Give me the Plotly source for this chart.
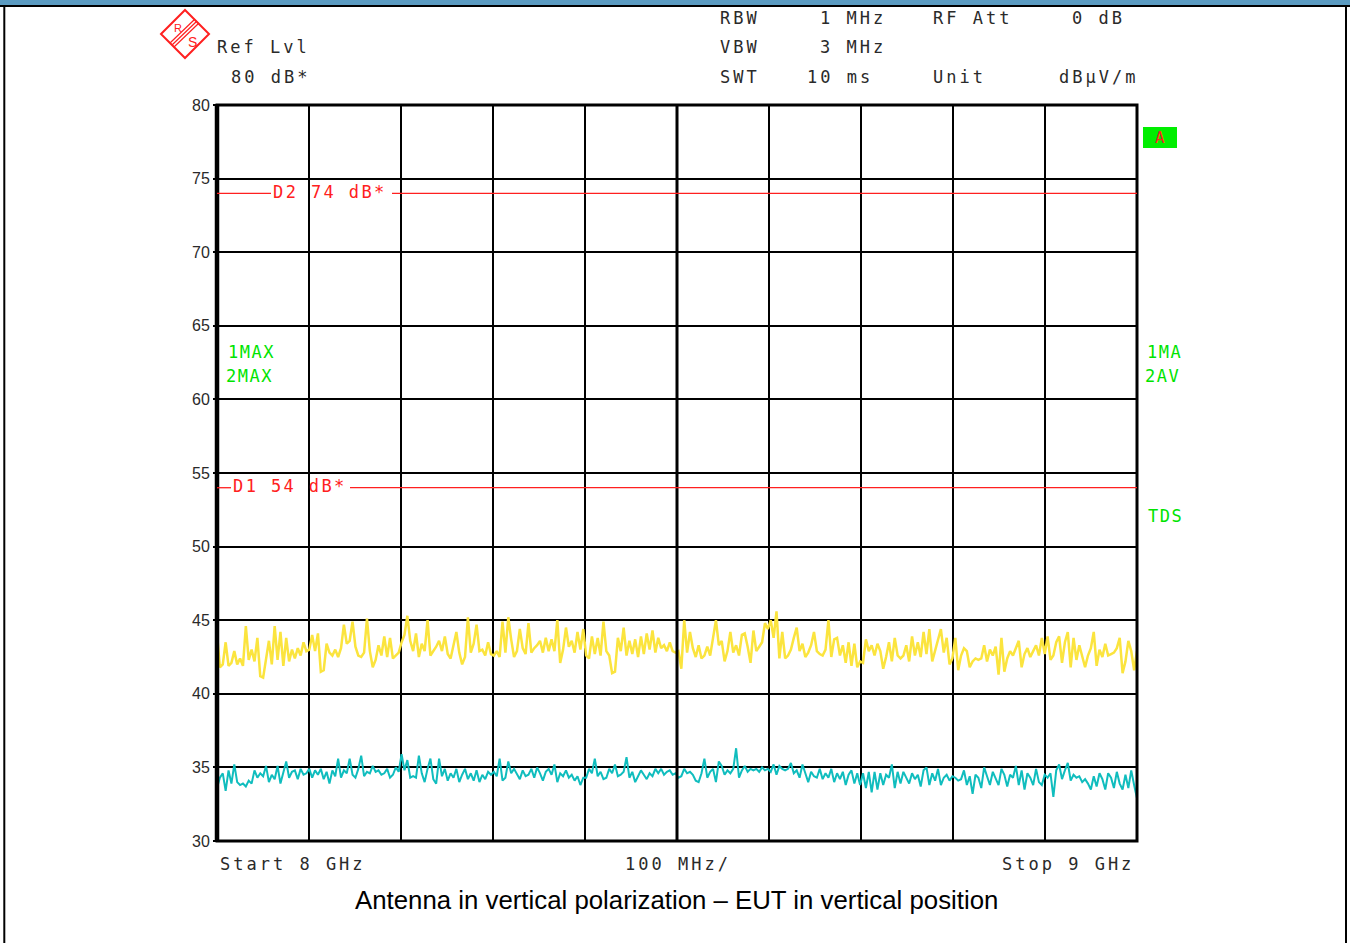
import plotly.graph_objects as go
import numpy as np

# ---- sweep settings -------------------------------------------------------
start_mhz = 8000
stop_mhz = 9000
y_min, y_max = 30, 80
display_lines = {"D2": 74, "D1": 54}

# ---- trace 1 (max hold, yellow), one row per 100 MHz division ------------
trace1_db = [
    44.1, 41.8, 42.0, 43.5, 41.9, 42.1, 42.9, 42.0, 42.4, 41.9, 44.6, 42.3, 43.0, 42.2, 43.8, 41.2,
    41.1, 42.5, 43.6, 42.0, 44.6, 42.3, 44.2, 41.9, 43.8, 42.2, 43.0, 42.4, 43.1, 42.6, 43.5, 42.9,
    43.0, 44.0, 42.9, 44.1, 41.5, 41.6, 43.4, 42.8, 42.6, 43.0, 42.5, 43.1, 44.7, 43.4, 43.6, 44.9,
    43.2, 42.6, 42.5, 42.8, 45.1, 42.9, 41.8, 42.3, 43.3, 42.6, 43.9, 42.5, 43.8, 42.4, 42.6, 42.8,
    43.5, 44.0, 45.3, 43.6, 42.9, 44.1, 42.5, 43.4, 42.9, 45.0, 42.6, 42.9, 43.2, 43.6, 42.9, 43.9,
    42.7, 42.4, 43.2, 44.2, 42.8, 42.0, 42.5, 45.2, 42.8, 43.4, 44.7, 42.9, 43.0, 42.6, 43.5, 42.7,
    42.6, 42.9, 42.5, 44.9, 42.8, 45.2, 43.7, 42.5, 42.9, 44.4, 43.1, 42.7, 44.8, 42.8, 43.1, 43.3,
    43.6, 42.8, 43.8, 42.9, 43.7, 42.9, 45.0, 42.1, 43.0, 44.5, 43.2, 43.6, 42.8, 44.2, 43.0, 44.4,
    42.6, 42.4, 43.9, 42.7, 43.8, 42.6, 44.9, 42.9, 42.6, 41.4, 41.5, 43.8, 42.9, 44.5, 42.6, 43.6,
    42.7, 43.7, 42.5, 43.9, 42.7, 44.1, 43.0, 44.3, 42.8, 43.8, 43.1, 43.3, 42.9, 43.5, 42.9, 42.8,
    42.9, 41.7, 45.0, 42.8, 44.2, 43.1, 42.5, 43.3, 42.4, 42.6, 43.2, 42.6, 43.8, 45.0, 43.3, 43.6,
    42.2, 42.9, 44.2, 42.8, 43.3, 42.6, 44.0, 44.1, 43.2, 42.1, 44.3, 42.9, 43.2, 43.5, 44.8, 44.4,
    45.0, 43.8, 45.6, 42.4, 44.2, 42.4, 42.6, 43.0, 43.8, 44.5, 42.9, 43.4, 42.5, 42.8, 43.3, 44.2,
    42.9, 42.7, 42.6, 43.0, 45.0, 42.5, 43.7, 43.8, 42.6, 43.3, 42.1, 43.5, 41.9, 43.4, 41.8, 42.2,
    42.1, 43.7, 42.9, 43.3, 42.6, 43.4, 42.9, 41.7, 42.5, 43.5, 42.2, 43.8, 42.6, 42.4, 42.6, 43.3,
    42.2, 43.9, 42.6, 43.5, 42.5, 44.2, 42.7, 44.4, 42.2, 43.0, 43.6, 44.4, 42.8, 43.8, 42.0, 42.4,
    43.8, 41.6, 42.6, 43.1, 42.9, 41.8, 42.2, 42.4, 42.3, 42.4, 43.3, 42.2, 43.0, 42.6, 43.2, 41.3,
    43.8, 41.5, 42.4, 42.9, 42.6, 43.1, 43.6, 41.8, 42.7, 43.1, 42.5, 42.9, 43.3, 42.6, 43.8, 42.7,
    43.9, 42.3, 42.6, 43.5, 43.9, 42.1, 43.5, 44.2, 41.8, 43.8, 42.3, 43.3, 42.6, 41.8, 42.6, 43.1,
    44.2, 41.9, 43.0, 42.5, 43.4, 42.6, 42.7, 42.8, 43.1, 43.8, 41.4, 42.2, 43.6, 42.9, 41.6, 42.9,
]

# ---- trace 2 (cyan) -------------------------------------------------------
trace2_db = [
    33.6, 34.3, 34.6, 33.4, 34.8, 33.9, 35.2, 34.0, 33.8, 33.9, 33.7, 34.1, 33.9, 34.8, 34.3, 34.6,
    34.4, 35.1, 34.0, 34.5, 34.2, 35.1, 33.9, 34.6, 35.4, 34.3, 34.7, 34.8, 34.2, 34.9, 34.5, 34.6,
    34.9, 34.3, 34.8, 34.5, 34.9, 34.2, 34.7, 33.9, 34.8, 34.4, 35.6, 34.3, 34.8, 34.6, 35.6, 34.5,
    34.3, 34.9, 35.8, 34.4, 34.7, 34.6, 35.1, 34.7, 34.8, 34.5, 34.6, 34.9, 34.3, 34.5, 35.0, 34.7,
    35.9, 34.8, 35.5, 34.3, 34.4, 34.3, 35.8, 34.6, 34.0, 34.9, 35.6, 34.2, 33.9, 35.6, 34.4, 34.9,
    34.1, 34.6, 34.3, 34.9, 34.0, 34.5, 34.9, 34.2, 34.6, 34.1, 34.8, 34.0, 34.5, 34.2, 34.7, 34.5,
    34.7, 34.4, 35.6, 34.1, 34.3, 35.4, 34.6, 34.9, 34.5, 34.2, 34.8, 34.4, 34.5, 34.9, 34.3, 35.0,
    34.6, 34.1, 34.7, 34.9, 34.5, 35.2, 34.0, 34.6, 34.4, 34.8, 34.3, 34.5, 34.1, 34.4, 33.8, 34.3,
    34.3, 34.9, 34.6, 35.6, 34.4, 34.7, 34.2, 34.3, 34.9, 34.6, 35.2, 34.4, 34.5, 34.7, 35.7, 34.3,
    34.7, 34.0, 34.4, 34.8, 34.5, 34.2, 34.6, 34.4, 34.9, 34.6, 34.9, 34.5, 34.7, 34.8, 34.5, 34.6,
    34.3, 34.4, 34.9, 34.6, 34.7, 34.5, 34.1, 34.0, 34.6, 35.6, 34.3, 34.7, 34.9, 34.0, 35.4, 35.1,
    34.5, 34.8, 34.6, 34.9, 36.3, 34.3, 34.8, 35.1, 34.7, 34.9, 34.8, 34.9, 34.7, 35.0, 34.8, 34.9,
    34.7, 35.2, 34.5, 35.1, 34.9, 34.8, 34.9, 35.3, 34.6, 34.8, 34.3, 35.2, 34.6, 34.0, 34.7, 34.4,
    34.3, 34.9, 34.2, 34.6, 34.3, 34.9, 34.0, 34.6, 34.2, 34.7, 33.8, 34.5, 34.8, 33.9, 34.6, 33.8,
    34.6, 33.6, 34.7, 33.3, 34.7, 33.5, 34.6, 33.8, 34.5, 34.3, 35.2, 33.6, 34.7, 33.9, 34.7, 34.3,
    33.9, 34.6, 34.2, 34.5, 33.7, 34.8, 35.0, 33.8, 34.6, 34.1, 34.9, 33.8, 34.3, 34.5, 34.1, 34.4,
    34.3, 34.1, 34.2, 34.8, 33.8, 34.4, 33.2, 34.5, 34.3, 33.6, 35.0, 34.4, 33.8, 34.7, 34.2, 33.8,
    34.9, 34.5, 33.7, 34.5, 34.3, 35.1, 33.8, 34.8, 33.5, 34.6, 34.3, 33.8, 34.9, 34.0, 33.8, 34.5,
    34.3, 34.6, 33.0, 34.8, 35.2, 34.2, 34.8, 35.3, 34.1, 34.5, 34.3, 34.4, 34.0, 34.2, 33.9, 33.5,
    34.4, 33.7, 34.6, 34.2, 33.5, 34.6, 34.3, 33.6, 34.7, 33.9, 33.5, 34.5, 33.6, 34.8, 33.8, 32.9,
]

freq1 = np.linspace(start_mhz, stop_mhz, len(trace1_db))
freq2 = np.linspace(start_mhz, stop_mhz, len(trace2_db))

# ---- page geometry (pixels) ----------------------------------------------
W, H = 1350, 943
PL, PR, PT, PB = 217, 1137, 105, 841


def px(x):
    return (x - PL) / (PR - PL)


def py(y):
    return (PB - y) / (PB - PT)


MONO = "DejaVu Sans Mono"
SANS = "Liberation Sans, Arial, sans-serif"
RED = "#FF2020"
GREEN = "#00E400"
TXT = "#2a2a2a"


def spaced(s, ls=3.0):
    return f'<span style="letter-spacing:{ls}px">{s}</span>'


fig = go.Figure()
fig.add_trace(go.Scatter(x=freq1, y=trace1_db, mode="lines",
                         line=dict(color="#FBE43E", width=2.5), hoverinfo="skip"))
fig.add_trace(go.Scatter(x=freq2, y=trace2_db, mode="lines",
                         line=dict(color="#10BDBE", width=2.0), hoverinfo="skip"))

shapes = []
annotations = []

# plot frame and centre line
shapes.append(dict(type="rect", xref="paper", yref="paper", x0=0, x1=1, y0=0, y1=1,
                   line=dict(color="black", width=3)))
shapes.append(dict(type="line", xref="paper", yref="paper", x0=0, x1=0, y0=0, y1=1,
                   line=dict(color="black", width=4.5)))
shapes.append(dict(type="line", xref="x", yref="paper", x0=8500, x1=8500, y0=0, y1=1,
                   line=dict(color="black", width=3)))

# display lines with their labels
line_layout = {"D2": (271, 392), "D1": (231, 350)}
for name, val in display_lines.items():
    gap0, gap1 = line_layout[name]
    shapes.append(dict(type="line", xref="paper", yref="y", x0=0, x1=px(gap0), y0=val, y1=val,
                       line=dict(color=RED, width=1.3)))
    shapes.append(dict(type="line", xref="paper", yref="y", x0=px(gap1), x1=1, y0=val, y1=val,
                       line=dict(color=RED, width=1.3)))
    annotations.append(dict(xref="paper", yref="y", x=px(gap0), y=val + 0.12,
                            text=spaced(f"{name} {val} dB*", 2.4), showarrow=False,
                            xanchor="left", yanchor="middle",
                            font=dict(family=MONO, size=17, color=RED)))

# page border
shapes.append(dict(type="rect", xref="paper", yref="paper", x0=px(0), x1=px(W), y0=py(0), y1=py(5),
                   fillcolor="#5B9BC1", line=dict(width=0), layer="above"))
shapes.append(dict(type="line", xref="paper", yref="paper", x0=px(0), x1=px(W), y0=py(6), y1=py(6),
                   line=dict(color="black", width=2.2)))
shapes.append(dict(type="line", xref="paper", yref="paper", x0=px(4.3), x1=px(4.3), y0=py(6), y1=py(W),
                   line=dict(color="black", width=2)))
shapes.append(dict(type="line", xref="paper", yref="paper", x0=px(1346), x1=px(1346), y0=py(6), y1=py(W),
                   line=dict(color="black", width=2)))

# R&S logo
cx, cy, r = 185, 34, 24
shapes.append(dict(type="path", xref="paper", yref="paper",
                   path=(f"M {px(cx - r)} {py(cy)} L {px(cx)} {py(cy - r)} "
                         f"L {px(cx + r)} {py(cy)} L {px(cx)} {py(cy + r)} Z"),
                   line=dict(color=RED, width=2)))
for d in (-2.0, 0, 2.0):
    shapes.append(dict(type="line", xref="paper", yref="paper",
                       x0=px(172 + d), y0=py(45 + d), x1=px(197 + d), y1=py(21 + d),
                       line=dict(color=RED, width=1.2)))
annotations.append(dict(xref="paper", yref="paper", x=px(178), y=py(28), text="R", showarrow=False,
                        xanchor="center", yanchor="middle",
                        font=dict(family=SANS, size=11, color=RED)))
annotations.append(dict(xref="paper", yref="paper", x=px(192), y=py(42), text="S", showarrow=False,
                        xanchor="center", yanchor="middle",
                        font=dict(family=SANS, size=14, color=RED)))

# instrument settings text
header = [
    ("Ref Lvl", 215, 47, "left"),
    ("80 dB*", 229, 77, "left"),
    ("RBW", 718, 18, "left"),
    ("1 MHz", 888, 18, "right"),
    ("RF Att", 931, 18, "left"),
    ("0 dB", 1127, 18, "right"),
    ("VBW", 718, 47, "left"),
    ("3 MHz", 888, 47, "right"),
    ("SWT", 718, 77, "left"),
    ("10 ms", 875, 77, "right"),
    ("Unit", 931, 77, "left"),
    ("dBµV/m", 1140, 77, "right"),
    ("Start 8 GHz", 218, 864, "left"),
    ("100 MHz/", 678, 864, "center"),
    ("Stop 9 GHz", 1136, 864, "right"),
]
for text, x, y, anchor in header:
    annotations.append(dict(xref="paper", yref="paper", x=px(x), y=py(y), text=spaced(text),
                            showarrow=False, xanchor=anchor, yanchor="middle",
                            font=dict(family=MONO, size=17, color=TXT)))

# trace status labels
status = [
    ("1MAX", 226, 352), ("2MAX", 224, 376),
    ("1MA", 1145, 352), ("2AV", 1143, 376), ("TDS", 1146, 516),
]
for text, x, y in status:
    annotations.append(dict(xref="paper", yref="paper", x=px(x), y=py(y), text=spaced(text, 1.5),
                            showarrow=False, xanchor="left", yanchor="middle",
                            font=dict(family=MONO, size=17, color=GREEN)))

shapes.append(dict(type="rect", xref="paper", yref="paper", x0=px(1143), x1=px(1177), y0=py(127), y1=py(148),
                   fillcolor="#00EE00", line=dict(width=0)))
annotations.append(dict(xref="paper", yref="paper", x=px(1160), y=py(137.5), text="A", showarrow=False,
                        xanchor="center", yanchor="middle",
                        font=dict(family=MONO, size=16, color=RED)))

# caption
annotations.append(dict(xref="paper", yref="paper", x=px(676), y=py(900),
                        text="Antenna in vertical polarization – EUT in vertical position",
                        showarrow=False, xanchor="center", yanchor="middle",
                        font=dict(family=SANS, size=25.8, color="black")))

fig.update_layout(
    width=W, height=H,
    margin=dict(l=PL, r=W - PR, t=PT, b=H - PB, pad=0),
    paper_bgcolor="white", plot_bgcolor="white",
    showlegend=False,
    shapes=shapes, annotations=annotations,
    xaxis=dict(range=[start_mhz, stop_mhz], dtick=100, tick0=start_mhz, showticklabels=False,
               showgrid=True, gridcolor="black", gridwidth=1.5, zeroline=False, showline=False,
               fixedrange=True),
    yaxis=dict(range=[y_min, y_max], dtick=5, tick0=y_min, showgrid=True, gridcolor="black",
               gridwidth=1.5, zeroline=False, showline=False, ticks="outside", ticklen=3,
               tickcolor="black", tickwidth=2,
               tickfont=dict(family=SANS, size=16, color=TXT), fixedrange=True),
)

fig.write_html("out.html")
